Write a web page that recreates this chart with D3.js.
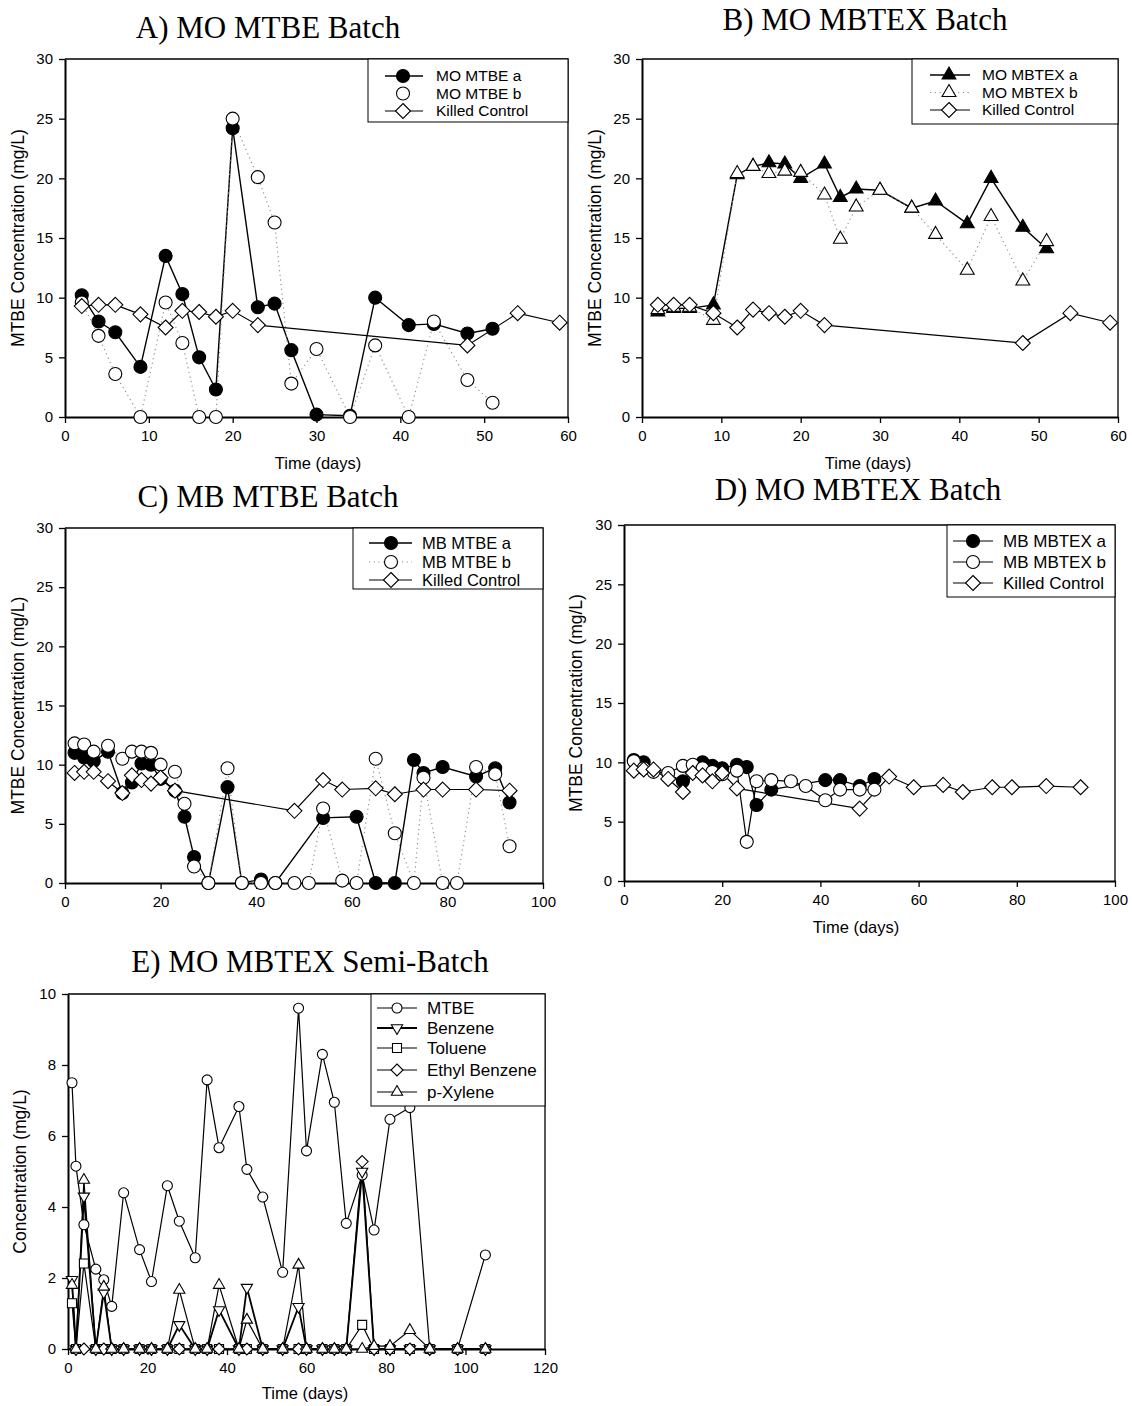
<!DOCTYPE html>
<html>
<head>
<meta charset="utf-8">
<script src="https://cdn.jsdelivr.net/npm/d3@7"></script>
<style>
  body { margin: 0; background: #fff; }
  text { font-family: Arial, "Liberation Sans", sans-serif; fill: #000; }
  .title { font-family: "Times New Roman", "Liberation Serif", serif; font-size: 31px; }
</style>
</head>
<body>
<svg id="fig" width="1132" height="1406"></svg>
<script>
// ---------------------------------------------------------------------------
// Data (time in days, concentration in mg/L)

// A) MO MTBE Batch
const aDays = [2, 4, 6, 9, 12, 14, 16, 18, 20, 23, 25, 27, 30, 34, 37, 41, 44, 48, 51];
const aMtbeA = [10.2, 8.0, 7.1, 4.2, 13.5, 10.3, 5.0, 2.3, 24.2, 9.2, 9.5, 5.6, 0.2, 0.1, 10.0, 7.7, 7.8, 7.0, 7.4];
const aMtbeB = [9.6, 6.8, 3.6, 0, 9.6, 6.2, 0, 0, 25.0, 20.1, 16.3, 2.8, 5.7, 0, 6.0, 0, 8.0, 3.1, 1.2];
const aCtrlDays = [2, 4, 6, 9, 12, 14, 16, 18, 20, 23, 48, 54, 59];
const aCtrl = [9.3, 9.4, 9.4, 8.6, 7.5, 8.9, 8.8, 8.4, 8.9, 7.7, 6.0, 8.7, 7.9];

// B) MO MBTEX Batch
const bDays = [2, 4, 6, 9, 12, 14, 16, 18, 20, 23, 25, 27, 30, 34, 37, 41, 44, 48, 51];
const bMbtexA = [8.8, 9.1, 9.1, 9.4, 20.3, 21.0, 21.3, 21.2, 20.0, 21.2, 18.4, 19.1, 19.0, 17.5, 18.1, 16.2, 20.0, 15.9, 14.1];
const bMbtexB = [9.0, 9.2, 9.2, 8.1, 20.4, 21.0, 20.4, 20.6, 20.5, 18.6, 14.9, 17.6, 19.0, 17.5, 15.3, 12.3, 16.8, 11.4, 14.7];
const bCtrlDays = [2, 4, 6, 9, 12, 14, 16, 18, 20, 23, 48, 54, 59];
const bCtrl = [9.4, 9.4, 9.4, 8.7, 7.5, 9.0, 8.7, 8.4, 8.9, 7.7, 6.2, 8.7, 7.9];

// C) MB MTBE Batch
const cDaysA = [2, 4, 6, 9, 12, 14, 16, 18, 20, 23, 25, 27, 30, 34, 37, 41, 44, 54, 61, 65, 69, 73, 75, 79, 86, 90, 93];
const cMtbeA = [11.0, 10.6, 10.3, 11.1, 7.6, 8.5, 10.1, 10.0, 8.8, 7.8, 5.6, 2.2, 0, 8.1, 0, 0.3, 0, 5.5, 5.6, 0, 0, 10.4, 9.3, 9.8, 9.0, 9.7, 6.8];
const cDaysB = [2, 4, 6, 9, 12, 14, 16, 18, 20, 23, 25, 27, 30, 34, 37, 41, 44, 48, 51, 54, 58, 61, 65, 69, 73, 75, 79, 82, 86, 90, 93];
const cMtbeB = [11.8, 11.7, 11.1, 11.6, 10.5, 11.1, 11.1, 11.0, 10.0, 9.4, 6.7, 1.4, 0, 9.7, 0, 0, 0, 0, 0, 6.3, 0.2, 0, 10.5, 4.2, 0, 8.9, 0, 0, 9.8, 9.2, 3.1];
const cCtrlDays = [2, 4, 6, 9, 12, 14, 16, 18, 20, 23, 48, 54, 58, 65, 69, 75, 79, 86, 93];
const cCtrl = [9.3, 9.4, 9.4, 8.6, 7.6, 9.1, 8.7, 8.4, 8.9, 7.8, 6.1, 8.7, 7.9, 8.0, 7.5, 7.9, 7.9, 7.9, 7.8];

// D) MB MBTEX Batch
const dDaysA = [2, 4, 12, 16, 18, 20, 23, 25, 27, 30, 41, 44, 48, 51];
const dMbtexA = [10.2, 10.0, 8.4, 10.0, 9.7, 9.5, 9.8, 9.6, 6.4, 7.7, 8.5, 8.5, 8.0, 8.6];
const dDaysB = [2, 4, 6, 9, 12, 14, 16, 18, 20, 23, 25, 27, 30, 34, 37, 41, 44, 48, 51];
const dMbtexB = [10.1, 9.5, 9.2, 9.1, 9.7, 9.8, 9.5, 9.2, 9.0, 9.3, 3.3, 8.4, 8.5, 8.4, 8.0, 6.8, 7.7, 7.7, 7.7];
const dCtrlDays = [2, 4, 6, 9, 12, 14, 16, 18, 20, 23, 48, 54, 59, 65, 69, 75, 79, 86, 93];
const dCtrl = [9.3, 9.4, 9.4, 8.6, 7.5, 9.1, 8.9, 8.4, 9.1, 7.8, 6.1, 8.8, 7.9, 8.1, 7.5, 7.9, 7.9, 8.0, 7.9];

// E) MO MBTEX Semi-Batch
const eDays = [1, 2, 4, 7, 9, 11, 14, 18, 21, 25, 28, 32, 35, 38, 43, 45, 49, 54, 58, 60, 64, 67, 70, 74, 77, 81, 86, 91, 98, 105];
const eMtbe = [7.5, 5.15, 3.5, 2.25, 1.95, 1.2, 4.4, 2.8, 1.9, 4.6, 3.6, 2.57, 7.58, 5.67, 6.83, 5.06, 4.28, 2.16, 9.6, 5.58, 8.3, 6.95, 3.54, 4.9, 3.35, 6.47, 6.8, 0, 0, 2.65];
const eBenzene = [1.95, 0, 4.3, 0, 1.6, 0, 0, 0, 0, 0, 0.68, 0, 0, 1.1, 0, 1.73, 0, 0, 1.19, 0, 0, 0, 0, 5.0, 0, 0, 0, 0, 0, 0];
const eToluene = [1.29, 0, 2.41, 0, 0, 0, 0, 0, 0, 0, 0, 0, 0, 0, 0, 0, 0, 0, 0, 0, 0, 0, 0, 0.68, 0, 0, 0, 0, 0, 0];
const eEthylDays = eDays.slice(1);
const eEthyl = [0, 0, 0, 0, 0, 0, 0, 0, 0, 0, 0, 0, 0, 0, 0, 0, 0, 0, 0, 0, 0, 0, 5.28, 0, 0, 0, 0, 0, 0];
const eXylene = [1.8, 0, 4.76, 0, 1.75, 0, 0, 0, 0, 0, 1.66, 0, 0, 1.8, 0, 0.82, 0, 0, 2.37, 0, 0, 0, 0, 0, 0.08, 0.08, 0.53, 0, 0, 0];

const ticks30 = [0, 5, 10, 15, 20, 25, 30];
const ticks60 = [0, 10, 20, 30, 40, 50, 60];
const ticks100 = [0, 20, 40, 60, 80, 100];
const ticks120 = [0, 20, 40, 60, 80, 100, 120];
const ticks10 = [0, 2, 4, 6, 8, 10];

// ---------------------------------------------------------------------------
const fig = d3.select('#fig');

function markerPath (type, r) {
  const h = r * 0.866;
  if (type === 'circle') return `M${r},0A${r},${r} 0 1,1 ${-r},0A${r},${r} 0 1,1 ${r},0Z`;
  if (type === 'diamond') return `M0,${-r}L${r},0L0,${r}L${-r},0Z`;
  if (type === 'square') return `M${-r},${-r}H${r}V${r}H${-r}Z`;
  if (type === 'triUp') return `M0,${-r}L${h},${r / 2}L${-h},${r / 2}Z`;
  if (type === 'triDown') return `M0,${r}L${h},${-r / 2}L${-h},${-r / 2}Z`;
}

function lineStyle (sel, s) {
  if (s.line === 'dotted') {
    sel.attr('stroke', '#8a8a8a').attr('stroke-width', 1.1).attr('stroke-dasharray', '1.2,3.5');
  } else {
    sel.attr('stroke', '#000').attr('stroke-width', s.width || 1.2);
  }
}

function panel (p) {
  const x = d3.scaleLinear().domain(p.xDomain).range([p.left, p.right]);
  const y = d3.scaleLinear().domain(p.yDomain).range([p.bottom, p.top]);
  const g = fig.append('g');

  // frame top/right
  g.append('path')
    .attr('d', `M${p.left},${p.top}H${p.right}V${p.bottom}`)
    .attr('fill', 'none').attr('stroke', '#000').attr('stroke-width', 1.3);

  const xAxis = g.append('g')
    .attr('transform', `translate(0,${p.bottom})`)
    .call(d3.axisBottom(x).tickValues(p.xTicks).tickSize(6).tickSizeOuter(0).tickPadding(7));
  const yAxis = g.append('g')
    .attr('transform', `translate(${p.left},0)`)
    .call(d3.axisLeft(y).tickValues(p.yTicks).tickSize(6).tickSizeOuter(0).tickPadding(6));
  [xAxis, yAxis].forEach(a => {
    a.select('.domain').attr('stroke-width', 2);
    a.selectAll('.tick line').attr('stroke-width', 1.3);
    a.selectAll('text').style('font-size', '15px').attr('fill', '#000');
  });

  // titles
  g.append('text').attr('class', 'title')
    .attr('text-anchor', 'middle')
    .attr('x', p.titleX).attr('y', p.titleY)
    .text(p.title);
  g.append('text')
    .attr('text-anchor', 'middle')
    .attr('transform', `translate(${p.yLabelX},${(p.top + p.bottom) / 2}) rotate(-90)`)
    .style('font-size', '17.5px')
    .text(p.yLabel);
  if (p.xLabel) {
    g.append('text')
      .attr('text-anchor', 'middle')
      .attr('x', p.xLabelX).attr('y', p.xLabelY)
      .style('font-size', '16.5px')
      .text(p.xLabel);
  }

  // series
  p.series.forEach(s => {
    const pts = s.x.map((d, i) => [d, s.y[i]]);
    if (s.line !== 'none') {
      g.append('path')
        .datum(pts)
        .attr('fill', 'none')
        .attr('d', d3.line().x(d => x(d[0])).y(d => y(d[1])))
        .call(lineStyle, s);
    }
  });
  p.series.forEach(s => {
    const pts = s.x.map((d, i) => [d, s.y[i]]);
    g.append('g').selectAll('path')
      .data(pts)
      .join('path')
      .attr('transform', d => `translate(${x(d[0])},${y(d[1])})`)
      .attr('d', markerPath(s.marker, s.r))
      .attr('fill', s.fill)
      .attr('stroke', '#000')
      .attr('stroke-width', 1.1);
  });

  // legend
  const L = p.legend;
  const fs = L.fontSize || 17;
  g.append('rect')
    .attr('x', L.x1).attr('y', L.y1)
    .attr('width', L.x2 - L.x1).attr('height', L.y2 - L.y1)
    .attr('fill', '#fff').attr('stroke', '#000').attr('stroke-width', 1);
  p.series.forEach((s, i) => {
    const ry = L.rows[i];
    if (s.legendLine !== false) {
      g.append('line')
        .attr('x1', L.lx1).attr('x2', L.lx2).attr('y1', ry).attr('y2', ry)
        .call(lineStyle, s);
    }
    g.append('path')
      .attr('transform', `translate(${L.mx},${ry})`)
      .attr('d', markerPath(s.marker, s.r))
      .attr('fill', s.fill).attr('stroke', '#000').attr('stroke-width', 1.1);
    g.append('text')
      .attr('x', L.tx).attr('y', ry + fs * 0.35)
      .style('font-size', fs + 'px')
      .text(s.name);
  });
}

// ---------------------------------------------------------------------------
panel({
  title: 'A) MO MTBE Batch', titleX: 268, titleY: 38,
  left: 65, right: 568, top: 59, bottom: 417,
  xDomain: [0, 60], yDomain: [0, 30], xTicks: ticks60, yTicks: ticks30,
  yLabel: 'MTBE Concentration (mg/L)', yLabelX: 24,
  xLabel: 'Time (days)', xLabelX: 318, xLabelY: 469,
  series: [
    { name: 'MO MTBE a', x: aDays, y: aMtbeA, marker: 'circle', r: 6.5, fill: '#000', line: 'solid', width: 1.4 },
    { name: 'MO MTBE b', x: aDays, y: aMtbeB, marker: 'circle', r: 6.5, fill: '#fff', line: 'dotted', legendLine: false },
    { name: 'Killed Control', x: aCtrlDays, y: aCtrl, marker: 'diamond', r: 7.5, fill: '#fff', line: 'solid' }
  ],
  legend: { x1: 368, x2: 568, y1: 59, y2: 122, rows: [76, 93.5, 111], mx: 403, lx1: 385, lx2: 423, tx: 436, fontSize: 15.5 }
});

panel({
  title: 'B) MO MBTEX Batch', titleX: 865, titleY: 30,
  left: 642, right: 1118, top: 59, bottom: 417,
  xDomain: [0, 60], yDomain: [0, 30], xTicks: ticks60, yTicks: ticks30,
  yLabel: 'MTBE Concentration (mg/L)', yLabelX: 601,
  xLabel: 'Time (days)', xLabelX: 868, xLabelY: 469,
  series: [
    { name: 'MO MBTEX a', x: bDays, y: bMbtexA, marker: 'triUp', r: 8, fill: '#000', line: 'solid', width: 1.4 },
    { name: 'MO MBTEX b', x: bDays, y: bMbtexB, marker: 'triUp', r: 8, fill: '#fff', line: 'dotted' },
    { name: 'Killed Control', x: bCtrlDays, y: bCtrl, marker: 'diamond', r: 7.5, fill: '#fff', line: 'solid' }
  ],
  legend: { x1: 912, x2: 1118, y1: 59, y2: 124, rows: [75, 92.5, 110], mx: 949, lx1: 930, lx2: 970, tx: 982, fontSize: 15.5 }
});

panel({
  title: 'C) MB MTBE Batch', titleX: 268, titleY: 507,
  left: 65, right: 543, top: 528, bottom: 883,
  xDomain: [0, 100], yDomain: [0, 30], xTicks: ticks100, yTicks: ticks30,
  yLabel: 'MTBE Concentration (mg/L)', yLabelX: 24,
  series: [
    { name: 'MB MTBE a', x: cDaysA, y: cMtbeA, marker: 'circle', r: 6.5, fill: '#000', line: 'solid', width: 1.4 },
    { name: 'MB MTBE b', x: cDaysB, y: cMtbeB, marker: 'circle', r: 6.5, fill: '#fff', line: 'dotted' },
    { name: 'Killed Control', x: cCtrlDays, y: cCtrl, marker: 'diamond', r: 7.5, fill: '#fff', line: 'solid' }
  ],
  legend: { x1: 353, x2: 543, y1: 528, y2: 589, rows: [543, 562, 580], mx: 391, lx1: 369, lx2: 412, tx: 422, fontSize: 16.5 }
});

panel({
  title: 'D) MO MBTEX Batch', titleX: 858, titleY: 500,
  left: 624, right: 1115, top: 525, bottom: 881,
  xDomain: [0, 100], yDomain: [0, 30], xTicks: ticks100, yTicks: ticks30,
  yLabel: 'MTBE Concentration (mg/L)', yLabelX: 582,
  xLabel: 'Time (days)', xLabelX: 856, xLabelY: 933,
  series: [
    { name: 'MB MBTEX a', x: dDaysA, y: dMbtexA, marker: 'circle', r: 6.5, fill: '#000', line: 'solid' },
    { name: 'MB MBTEX b', x: dDaysB, y: dMbtexB, marker: 'circle', r: 6.5, fill: '#fff', line: 'solid' },
    { name: 'Killed Control', x: dCtrlDays, y: dCtrl, marker: 'diamond', r: 7.5, fill: '#fff', line: 'solid' }
  ],
  legend: { x1: 947, x2: 1115, y1: 525, y2: 597, rows: [541, 562, 583], mx: 973, lx1: 953, lx2: 993, tx: 1003 }
});

panel({
  title: 'E) MO MBTEX Semi-Batch', titleX: 310, titleY: 972,
  left: 68, right: 545, top: 994, bottom: 1349,
  xDomain: [0, 120], yDomain: [0, 10], xTicks: ticks120, yTicks: ticks10,
  yLabel: 'Concentration (mg/L)', yLabelX: 26,
  xLabel: 'Time (days)', xLabelX: 305, xLabelY: 1399,
  series: [
    { name: 'MTBE', x: eDays, y: eMtbe, marker: 'circle', r: 5, fill: '#fff', line: 'solid' },
    { name: 'Benzene', x: eDays, y: eBenzene, marker: 'triDown', r: 6.5, fill: '#fff', line: 'solid', width: 1.8 },
    { name: 'Toluene', x: eDays, y: eToluene, marker: 'square', r: 4.5, fill: '#fff', line: 'solid' },
    { name: 'Ethyl Benzene', x: eEthylDays, y: eEthyl, marker: 'diamond', r: 6, fill: '#fff', line: 'solid' },
    { name: 'p-Xylene', x: eDays, y: eXylene, marker: 'triUp', r: 6.5, fill: '#fff', line: 'solid' }
  ],
  legend: { x1: 371, x2: 545, y1: 994, y2: 1106, rows: [1008, 1028, 1048, 1070, 1092], mx: 397, lx1: 377, lx2: 417, tx: 427 }
});
</script>
</body>
</html>
